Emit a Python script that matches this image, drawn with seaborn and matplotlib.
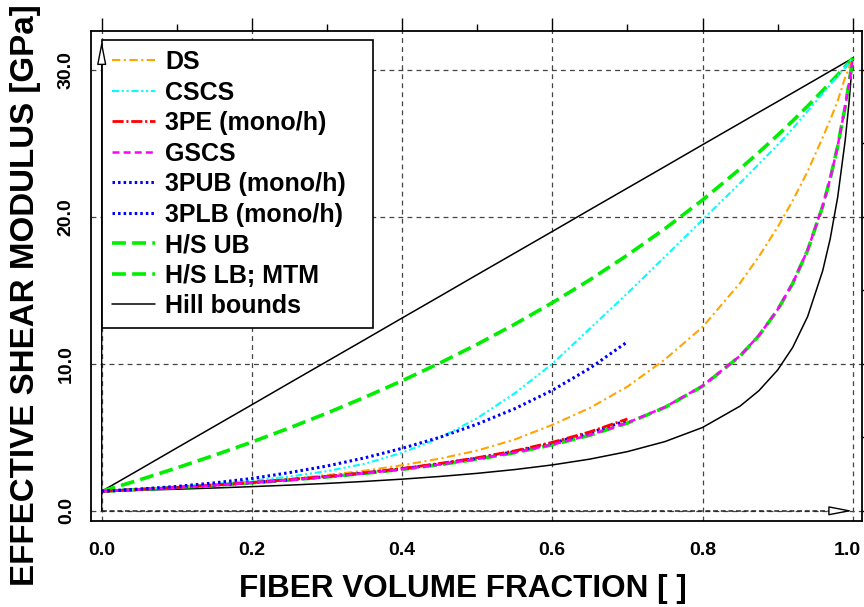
import matplotlib
matplotlib.use('Agg')
import matplotlib.pyplot as plt
from matplotlib.ticker import MultipleLocator, FormatStrFormatter
from matplotlib.transforms import ScaledTranslation
import seaborn as sns

# fiber volume fraction samples
x_full = [0.0, 0.05, 0.1, 0.15, 0.2, 0.25, 0.3, 0.35, 0.4, 0.45, 0.5, 0.55, 0.6,
          0.65, 0.7, 0.75, 0.8, 0.85, 0.875, 0.9, 0.92, 0.94, 0.96, 0.97, 0.98,
          0.99, 0.995, 1.0]
x_half = [0.0, 0.05, 0.1, 0.15, 0.2, 0.25, 0.3, 0.35, 0.4, 0.45, 0.5, 0.55, 0.6,
          0.65, 0.7]

# effective shear modulus [GPa]
ds = [1.33, 1.46, 1.6, 1.77, 1.96, 2.18, 2.43, 2.73, 3.1, 3.55, 4.1, 4.85, 5.85,
      7.0, 8.45, 10.3, 12.5, 15.5, 17.3, 19.3, 21.1, 23.1, 25.4, 26.6, 27.9,
      29.5, 30.15, 30.8]
cscs = [1.33, 1.47, 1.63, 1.82, 2.05, 2.33, 2.70, 3.2, 3.95, 4.95, 6.3, 8.0, 10.0,
        12.4, 14.8, 17.3, 19.8, 22.3, 23.6, 24.9, 26.0, 27.2, 28.4, 29.0, 29.6,
        30.2, 30.5, 30.8]
pe3 = [1.33, 1.455, 1.595, 1.75, 1.925, 2.12, 2.34, 2.59, 2.88, 3.22, 3.61, 4.08,
       4.66, 5.37, 6.25]
gscs = [1.33, 1.455, 1.592, 1.743, 1.912, 2.101, 2.313, 2.556, 2.832, 3.151, 3.526,
        3.97, 4.505, 5.163, 5.99, 7.06, 8.50, 10.55, 11.93, 13.69, 15.48, 17.75,
        20.73, 22.6, 24.82, 27.5, 29.06, 30.8]
pub3 = [1.33, 1.48, 1.66, 1.9, 2.2, 2.6, 3.05, 3.6, 4.25, 5.0, 5.9, 6.95, 8.2,
        9.7, 11.5]
plb3 = [1.33, 1.455, 1.593, 1.746, 1.918, 2.11, 2.33, 2.575, 2.86, 3.19, 3.575,
        4.03, 4.6, 5.3, 6.15]
hs_ub = [1.33, 2.10, 2.92, 3.78, 4.68, 5.64, 6.65, 7.72, 8.85, 10.05, 11.33, 12.70,
         14.16, 15.72, 17.40, 19.20, 21.15, 23.27, 24.39, 25.56, 26.53, 27.54,
         28.59, 29.13, 29.67, 30.23, 30.51, 30.8]
hs_lb = [1.33, 1.454, 1.59, 1.74, 1.908, 2.096, 2.307, 2.548, 2.823, 3.141, 3.514,
         3.956, 4.489, 5.144, 5.968, 7.036, 8.477, 10.53, 11.91, 13.67, 15.46,
         17.73, 20.71, 22.59, 24.81, 27.5, 29.06, 30.8]
hill_ub = [1.33, 2.80, 4.28, 5.75, 7.22, 8.70, 10.17, 11.64, 13.12, 14.59, 16.07,
           17.54, 19.01, 20.49, 21.96, 23.43, 24.91, 26.38, 27.12, 27.85, 28.44,
           29.03, 29.62, 29.92, 30.21, 30.51, 30.65, 30.8]
hill_lb = [1.33, 1.397, 1.471, 1.553, 1.645, 1.748, 1.865, 2.0, 2.155, 2.336, 2.55,
           2.807, 3.123, 3.518, 4.028, 4.71, 5.67, 7.124, 8.17, 9.578, 11.11,
           13.22, 16.33, 18.5, 21.34, 25.21, 27.72, 30.8]

sns.set_theme(style='white')
plt.rcParams['font.family'] = ['Liberation Sans', 'DejaVu Sans']
plt.rcParams['font.weight'] = 'bold'
plt.rcParams['lines.scale_dashes'] = False
for key in ['text.color', 'axes.labelcolor', 'xtick.color', 'ytick.color',
            'axes.edgecolor']:
    plt.rcParams[key] = 'black'

fig = plt.figure(figsize=(8.64, 6.07), dpi=100)
ax = fig.add_axes([0.1059, 0.1420, 0.8918, 0.8069])

GREEN = '#00ee00'
curves = [
    # x, y, label, color, linestyle, linewidth
    (x_full, hill_ub, 'Hill bounds', 'black', '-', 1.1),
    (x_full, hill_lb, None, 'black', '-', 1.1),
    (x_full, hs_ub, 'H/S UB', GREEN, (0, (10, 4.5)), 2.6),
    (x_full, hs_lb, 'H/S LB; MTM', GREEN, (0, (10, 4.5)), 2.6),
    (x_full, ds, 'DS', 'orange', (0, (6, 2.5, 1.5, 2.5)), 1.5),
    (x_full, cscs, 'CSCS', 'cyan', (0, (5, 2, 1.5, 2, 1.5, 2)), 1.5),
    (x_half, plb3, '3PLB (mono/h)', 'blue', (0, (1.8, 2.2)), 2.2),
    (x_half, pe3, '3PE (mono/h)', 'red', (0, (8, 2, 1.5, 2)), 2.0),
    (x_full, gscs, 'GSCS', 'magenta', (0, (5, 3)), 1.8),
    (x_half, pub3, '3PUB (mono/h)', 'blue', (0, (1.8, 2.2)), 2.2),
]
handles = {}
for xs, ys, lab, col, ls, lw in curves:
    sns.lineplot(x=xs, y=ys, ax=ax, color=col, linestyle=ls, linewidth=lw,
                 sort=False, estimator=None)
    if lab:
        handles[lab] = ax.lines[-1]

order = ['DS', 'CSCS', '3PE (mono/h)', 'GSCS', '3PUB (mono/h)', '3PLB (mono/h)',
         'H/S UB', 'H/S LB; MTM', 'Hill bounds']
leg = ax.legend([handles[k] for k in order], order, loc='upper left',
                bbox_to_anchor=(0.0136, 0, 0.3517, 0.9816), mode='expand',
                borderaxespad=0, prop={'weight': 'bold', 'size': 18},
                handlelength=1.72, handletextpad=0.4, borderpad=0.4,
                labelspacing=0.26, fancybox=False, framealpha=1)
leg.get_frame().set_edgecolor('black')
leg.get_frame().set_linewidth(1.2)
leg.set_zorder(5)

ax.set_xlim(-0.0136, 1.0124)
ax.set_ylim(-0.68, 32.65)
ax.xaxis.set_major_locator(MultipleLocator(0.2))
ax.xaxis.set_minor_locator(MultipleLocator(0.1))
ax.yaxis.set_major_locator(MultipleLocator(10))
ax.yaxis.set_minor_locator(MultipleLocator(5))
ax.xaxis.set_major_formatter(FormatStrFormatter('%.1f'))
ax.yaxis.set_major_formatter(FormatStrFormatter('%.1f'))

ax.tick_params(which='both', direction='out', top=True, right=True, color='black',
               width=1, labelsize=14)
ax.tick_params(which='major', length=9.4)
ax.tick_params(which='minor', length=4.7)
ax.tick_params(axis='x', which='major', pad=5.5)
ax.tick_params(axis='y', which='major', pad=2.6, labelrotation=90)

ax.grid(True, which='major', color='#444444', linestyle=(0, (3.5, 3)), linewidth=0.9)
for s in ax.spines.values():
    s.set_color('black')
    s.set_linewidth(1.3)

# axis arrows
ax.hlines(0, 0, 0.97, color='#222222', linestyle=(0, (3.5, 2)), linewidth=1.1, zorder=3)
ax.annotate('', xy=(1.0, 0), xytext=(0.97, 0),
            arrowprops=dict(arrowstyle='-|>,head_length=1.45,head_width=0.28',
                            fc='white', ec='black', lw=1, mutation_scale=10,
                            shrinkA=0, shrinkB=0), zorder=6)
ax.annotate('', xy=(0, 32.0), xytext=(0, 0),
            arrowprops=dict(arrowstyle='-|>,head_length=1.45,head_width=0.28',
                            fc='white', ec='black', lw=1, mutation_scale=10,
                            shrinkA=0, shrinkB=0), zorder=6)

ax.set_xlabel('FIBER VOLUME FRACTION [ ]', fontsize=22.7, fontweight='bold')
ax.xaxis.set_label_coords(0.482, -0.108)
ax.set_ylabel('EFFECTIVE SHEAR MODULUS [GPa]', fontsize=23.9, fontweight='bold')
ax.yaxis.set_label_coords(-0.066, 0.461)

fig.canvas.draw()
for lbl in ax.get_yticklabels():
    lbl.set_verticalalignment('center')
for lbl in ax.get_xticklabels() + ax.get_yticklabels():
    lbl.set_fontweight('bold')
    # keep the last x label inside the figure edge
    if lbl.get_text() == '1.0' and lbl in ax.get_xticklabels():
        lbl.set_transform(lbl.get_transform()
                          + ScaledTranslation(-4 / 72, 0, fig.dpi_scale_trans))

fig.savefig('out.png', dpi=100)
plt.close(fig)
